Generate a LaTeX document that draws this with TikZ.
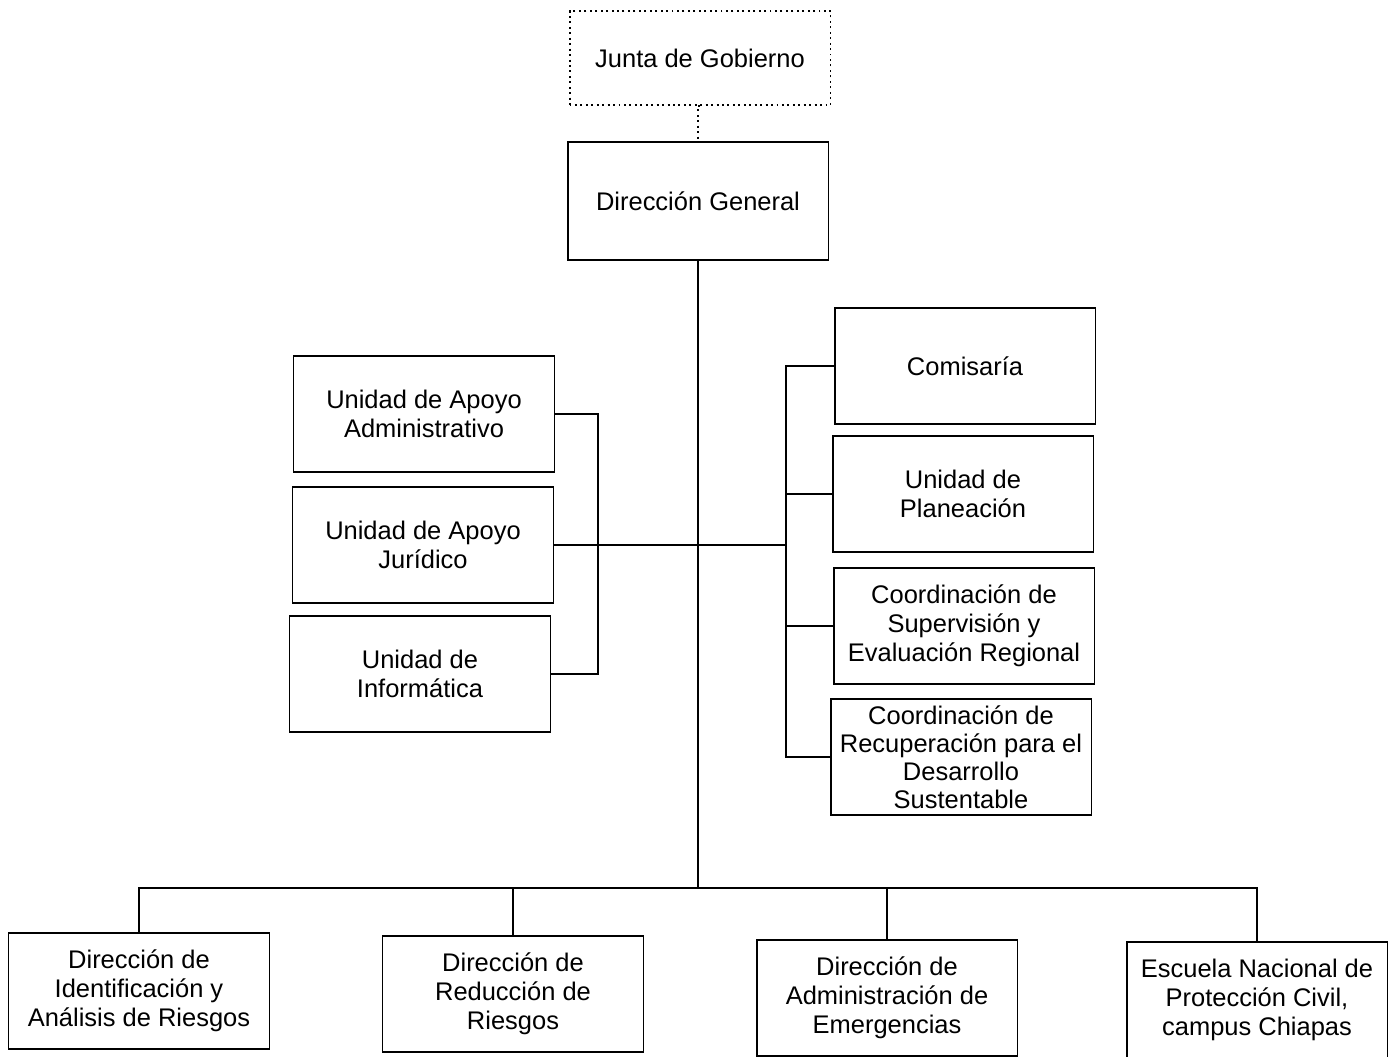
\documentclass[tikz,border=0pt]{standalone}
\usepackage{fontspec}
\setmainfont{Liberation Sans}

\begin{document}
\begin{tikzpicture}[x=0.02cm,y=-0.02cm,
	unit/.style={draw,black,line width=1.1pt,rectangle,minimum width=5.22cm,minimum height=2.32cm,
		align=center,inner sep=2pt,font=\fontsize{14.5}{16.5}\selectfont},
	link/.style={black,line width=1.1pt}]

\useasboundingbox (0,0) rectangle (1392,1057);

%draw top of the chart
\node[unit,dotted,minimum height=1.88cm] (junta) at (700,58) {Junta de Gobierno};
\node[unit,minimum height=2.36cm] (general) at (698,201) {Dirección General};

%draw staff units on the left
\node[unit] (administrativo) at (424,414) {Unidad de Apoyo\\Administrativo};
\node[unit] (juridico) at (423,545) {Unidad de Apoyo\\Jurídico};
\node[unit] (informatica) at (420,674) {Unidad de\\Informática};

%draw staff units on the right
\node[unit] (comisaria) at (965,366) {Comisaría};
\node[unit] (planeacion) at (963,494) {Unidad de\\Planeación};
\node[unit] (supervision) at (964,626) {Coordinación de\\Supervisión y\\Evaluación Regional};
\node[unit,font=\fontsize{14.5}{15.9}\selectfont] (recuperacion) at (961,757) {Coordinación de\\Recuperación para el\\Desarrollo\\Sustentable};

%draw directions at the bottom
\node[unit] (identificacion) at (139,991) {Dirección de\\Identificación y\\Análisis de Riesgos};
\node[unit] (reduccion) at (513,994) {Dirección de\\Reducción de\\Riesgos};
\node[unit] (emergencias) at (887,998) {Dirección de\\Administración de\\Emergencias};
\node[unit] (escuela) at (1257,1000) {Escuela Nacional de\\Protección Civil,\\campus Chiapas};

%reference points of the lines
\coordinate (lbar) at (598,0);
\coordinate (rbar) at (786,0);
\coordinate (bus) at (692,888);

%draw the lines
\draw[link,dotted] (junta.south) -- (general.south |- junta.south) -- (general.north);
\draw[link] (general.south) -- (general.south |- bus);
\draw[link] (administrativo.east) -| (lbar |- informatica.east) -- (informatica.east);
\draw[link] (juridico.east) -- (rbar |- juridico.east);
\draw[link] (comisaria.west) -| (rbar |- recuperacion.west) -- (recuperacion.west);
\foreach \n in {planeacion,supervision}
	{
	\draw[link] (rbar |- \n.west) -- (\n.west);
	}
\draw[link] (identificacion.north) |- (bus) -| (escuela.north);
\foreach \n in {reduccion,emergencias}
	{
	\draw[link] (\n.north) -- (\n.north |- bus);
	}

\end{tikzpicture}
\end{document}
